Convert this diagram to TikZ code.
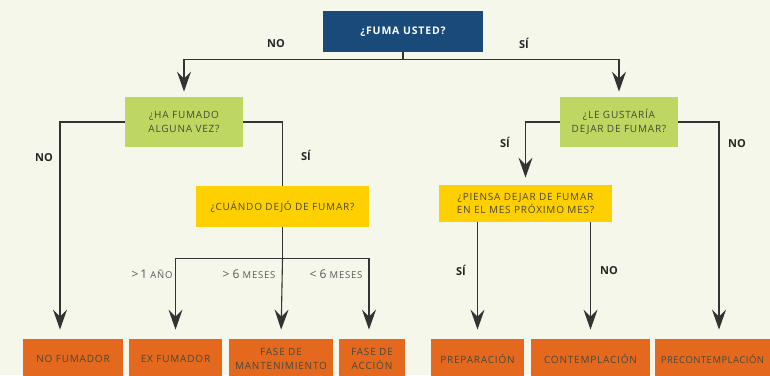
\documentclass[tikz,border=0pt]{standalone}
\usepackage{fontspec}
\setmainfont{Open Sans}
\usetikzlibrary{arrows.meta}
\definecolor{bg}{HTML}{F4F7EA}
\definecolor{askblue}{HTML}{194A7A}
\definecolor{qgreen}{HTML}{BDD762}
\definecolor{qyellow}{HTML}{FFD000}
\definecolor{endorange}{HTML}{E4691F}
\definecolor{boxtext}{HTML}{4A4838}
\definecolor{linegray}{HTML}{333333}
\newcommand\boxfont{\fontsize{10}{13.5}\selectfont\addfontfeatures{LetterSpace=8}}
\newcommand\askfont{\fontsize{10.5}{12}\selectfont\bfseries\addfontfeatures{LetterSpace=8}}
\newcommand\sm[1]{{\fontsize{9.5}{10}\selectfont\addfontfeatures{LetterSpace=8}#1}}

\begin{document}
\begin{tikzpicture}[x=1pt ,y=-1pt ,thick ,
box/.style ={ align=center ,inner sep=0pt ,text=boxtext ,font=\boxfont},
ask/.style ={ box ,fill=askblue ,text=white ,font=\askfont ,minimum width=160 ,minimum height=41},
qone/.style ={ box ,fill=qgreen ,minimum width=118 ,minimum height=50},
qtwo/.style ={ box ,fill=qyellow ,minimum width=173},
fin/.style ={ box ,fill=endorange ,minimum height=40},
line/.style ={ draw=linegray ,line width=1.1pt},
arr/.style ={ line ,-{Stealth[length=20pt ,width=14pt ,inset=7pt]} ,shorten >=6pt},
yes/.style ={ font=\fontsize{11}{12}\selectfont\bfseries ,text=black!85},
dur/.style ={ font=\fontsize{12}{12}\selectfont ,text=black!65}]
\path[use as bounding box ,fill=bg] (0,0) rectangle (770,375);

\node[ask] (fuma) at (403,31.5) {¿FUMA USTED?};
\node[qone] (hafumado) at (184,122) {¿HA FUMADO\\ALGUNA VEZ?};
\node[qone] (gustaria) at (619,122) {¿LE GUSTARÍA\\DEJAR DE FUMAR?};
\node[qtwo ,minimum height=41] (cuando) at (282.5,206.5) {¿CUÁNDO DEJÓ DE FUMAR?};
\node[qtwo ,minimum height=37] (piensa) at (525.5,203.5) {¿PIENSA DEJAR DE FUMAR\\EN EL MES PRÓXIMO MES?};

\node[fin ,minimum width=100] (nofum) at (73,359) {NO FUMADOR};
\node[fin ,minimum width=93] (exfum) at (175.5,359) {EX FUMADOR};
\node[fin ,minimum width=104] (mant) at (281,359) {FASE DE\\MANTENIMIENTO};
\node[fin ,minimum width=66] (accion) at (372,359) {FASE DE\\ACCIÓN};
\node[fin ,minimum width=93] (prep) at (477.5,359) {PREPARACIÓN};
\node[fin ,minimum width=119] (contemp) at (590.5,359) {CONTEMPLACIÓN};
\node[fin ,minimum width=115 ,font=\fontsize{9.5}{12}\selectfont\addfontfeatures{LetterSpace=5}] (precont) at (712.5,359) {PRECONTEMPLACIÓN};

\node[yes] (nofuma) at (276,44) {NO};
\node[yes] (sifuma) at (524,43) {SÍ};
\node[yes] (nunca) at (44,158) {NO};
\node[yes] (alguna) at (306,155) {SÍ};
\node[yes] (quiere) at (505,142) {SÍ};
\node[yes] (noquiere) at (737,144) {NO};
\node[yes] (simes) at (461,270) {SÍ};
\node[yes] (nomes) at (609,271) {NO};
\node[dur] (anio) at (152,274) {>\,1 \sm{AÑO}};
\node[dur] (masseis) at (249,274) {> 6 \sm{MESES}};
\node[dur] (menosseis) at (336,274) {< 6 \sm{MESES}};

\draw[arr ,shorten >=5pt] (fuma.south) -- ++(0,7) coordinate (top) -| (hafumado.north);
\draw[arr ,shorten >=5pt] (top) -| (gustaria.north);
\draw[arr ,shorten >=9pt] (hafumado.west) -| ([xshift=-13]nofum.north);
\draw[line] (hafumado.east) -| (cuando.north);
\draw[line] (cuando.south) -- ++(0,31) coordinate (cs);
\draw[arr ,shorten >=9pt] (cs) -| (exfum.north);
\draw[arr ,shorten >=9pt] (cs) -- (mant.north);
\draw[arr ,shorten >=9pt] (cs) -| ([xshift=-3]accion.north);
\draw[arr ,shorten >=7pt] (gustaria.west) -| (piensa.north);
\draw[arr ,shorten >=9pt] (gustaria.east) -| ([xshift=6.5]precont.north);
\draw[arr ,shorten >=9pt] (piensa.south -| prep.north) -- (prep.north);
\draw[arr ,shorten >=9pt] (piensa.south -| contemp.north) -- (contemp.north);
\end{tikzpicture}
\end{document}
